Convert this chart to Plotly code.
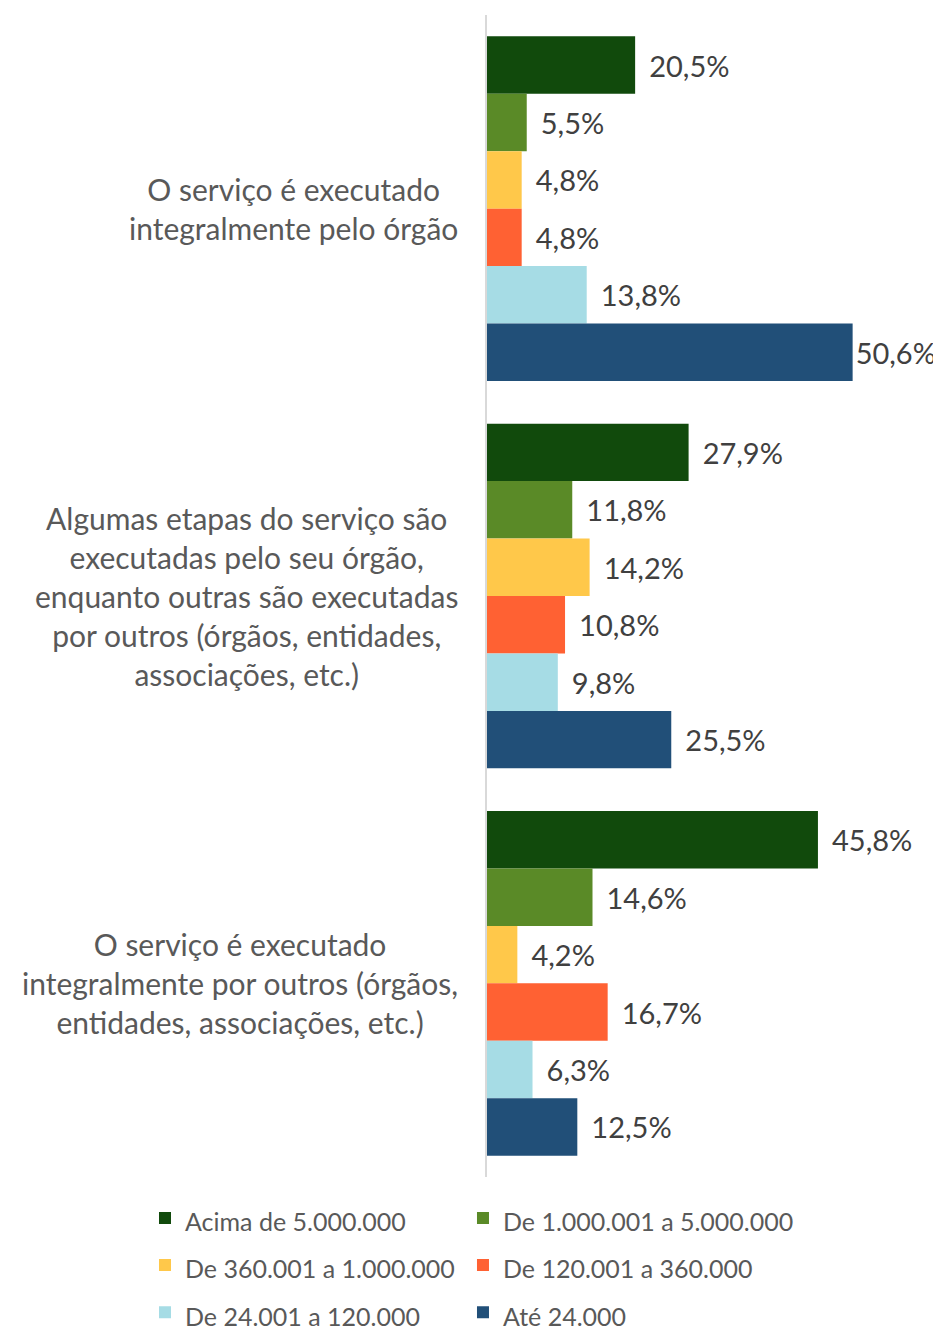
import plotly.graph_objects as go

categories = [
    "O serviço é executado<br>integralmente pelo órgão",
    "Algumas etapas do serviço são<br>executadas pelo seu órgão,<br>enquanto outras são executadas<br>por outros (órgãos, entidades,<br>associações, etc.)",
    "O serviço é executado<br>integralmente por outros (órgãos,<br>entidades, associações, etc.)",
]
series_names = [
    "Acima de 5.000.000",
    "De 1.000.001 a 5.000.000",
    "De 360.001 a 1.000.000",
    "De 120.001 a 360.000",
    "De 24.001 a 120.000",
    "Até 24.000",
]
values = {
    "Acima de 5.000.000": [20.5, 27.9, 45.8],
    "De 1.000.001 a 5.000.000": [5.5, 11.8, 14.6],
    "De 360.001 a 1.000.000": [4.8, 14.2, 4.2],
    "De 120.001 a 360.000": [4.8, 10.8, 16.7],
    "De 24.001 a 120.000": [13.8, 9.8, 6.3],
    "Até 24.000": [50.6, 25.5, 12.5],
}
colors = ["#114A0C", "#5A8A27", "#FFC84A", "#FF6133", "#A6DCE5", "#214F78"]

X_MAX = 62

fig = go.Figure()
for i, (name, col) in enumerate(zip(series_names, colors)):
    vals = values[name]
    labels = []
    for v in vals:
        pad = "" if v > 0.8 * X_MAX else " \u2009"
        labels.append(pad + f"{v:.1f}".replace(".", ",") + "%")
    fig.add_trace(go.Bar(
        y=categories, x=vals,
        name='<span style="font-size:25px">' + name + "</span>",
        legend="legend" if i % 2 == 0 else "legend2",
        orientation="h",
        marker=dict(color=col, line=dict(width=0)),
        text=labels,
        textposition="outside", cliponaxis=False,
        textfont=dict(family="Lato", size=29, color="#404040"),
    ))

# category labels: centered multi-line text, right edge near the axis
for cat in categories:
    fig.add_annotation(
        x=0, xref="paper", y=cat, yref="y", xanchor="right", yanchor="middle",
        xshift=-27, text=cat, showarrow=False, align="center",
        font=dict(family="Lato", size=30, color="#595959"),
    )

legend_common = dict(
    orientation="v", xanchor="left", y=-0.0106, yanchor="top",
    font=dict(family="Lato", size=34, color="#595959"),
    traceorder="normal", bgcolor="rgba(0,0,0,0)",
)

# page body has an 8px margin, so the figure is sized/offset accordingly
fig.update_layout(
    width=933, height=1322,
    barmode="group", bargap=0.11, bargroupgap=0,
    plot_bgcolor="white", paper_bgcolor="white",
    margin=dict(l=479, r=6, t=7, b=153, autoexpand=False),
    font=dict(family="Lato", size=29, color="#595959"),
    showlegend=True,
    legend=dict(x=-0.7634, **legend_common),
    legend2=dict(x=-0.0536, **legend_common),
)
fig.update_xaxes(range=[0, X_MAX], visible=False, showgrid=False, zeroline=False)
fig.update_yaxes(autorange="reversed", showline=True, linecolor="#D9D9D9", linewidth=2,
                 ticks="", showticklabels=False, showgrid=False, automargin=False)

fig.write_html("out.html")
